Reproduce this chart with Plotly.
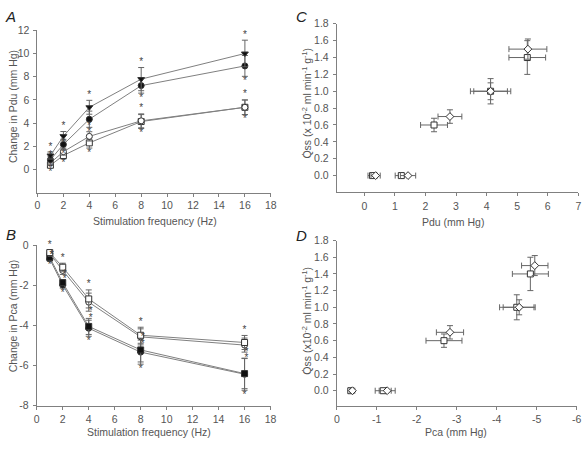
import plotly.graph_objects as go

W, H = 587, 449
FONT = "Liberation Sans, Arial, sans-serif"
TXT = "#555555"
LINE = "#808080"

freq = [1, 2, 4, 8, 16]

# Panel A: change in Pdu (mm Hg)
a_tri = [1.2, 2.87, 5.36, 7.79, 10.0]
a_tri_err = [0.3, 0.4, 0.6, 1.0, 1.15]
a_fcirc = [0.84, 2.15, 4.33, 7.23, 8.93]
a_fcirc_err = [0.3, 0.45, 0.7, 0.65, 0.9]
a_ocirc = [0.56, 1.53, 2.85, 4.19, 5.36]
a_ocirc_err = [0.2, 0.3, 0.4, 0.6, 0.63]
a_osq = [0.36, 1.2, 2.29, 4.13, 5.36]
a_osq_err = [0.2, 0.3, 0.45, 0.6, 0.63]

# Panel B: change in Pca (mm Hg)
b_osq = [-0.37, -1.1, -2.68, -4.49, -4.85]
b_osq_err = [0.1, 0.2, 0.45, 0.4, 0.35]
b_ocirc = [-0.42, -1.26, -2.84, -4.57, -4.98]
b_ocirc_err = [0.1, 0.2, 0.45, 0.4, 0.35]
b_fsq = [-0.61, -1.87, -4.05, -5.22, -6.4]
b_fsq_err = [0.1, 0.15, 0.4, 0.6, 0.75]
b_fcirc = [-0.69, -1.99, -4.14, -5.33, -6.43]
b_fcirc_err = [0.1, 0.15, 0.4, 0.6, 0.8]

# Panel C: Qss vs Pdu
c_sq_x = [0.27, 1.21, 2.28, 4.13, 5.33]
c_sq_xerr = [0.15, 0.2, 0.44, 0.66, 0.6]
c_sq_y = [0.0, 0.0, 0.6, 1.0, 1.4]
c_sq_yerr = [0, 0, 0.08, 0.15, 0.2]
c_di_x = [0.37, 1.43, 2.8, 4.13, 5.35]
c_di_xerr = [0.15, 0.25, 0.39, 0.55, 0.62]
c_di_y = [0.0, 0.0, 0.7, 1.0, 1.5]
c_di_yerr = [0, 0, 0.08, 0.1, 0.12]

# Panel D: Qss vs Pca
d_sq_x = [-0.35, -1.16, -2.68, -4.5, -4.84]
d_sq_xerr = [0.06, 0.2, 0.45, 0.43, 0.45]
d_sq_y = [0.0, 0.0, 0.6, 1.0, 1.4]
d_sq_yerr = [0, 0, 0.08, 0.15, 0.2]
d_di_x = [-0.39, -1.26, -2.83, -4.56, -4.95]
d_di_xerr = [0.06, 0.2, 0.34, 0.4, 0.33]
d_di_y = [0.0, 0.0, 0.7, 1.0, 1.5]
d_di_yerr = [0, 0, 0.08, 0.09, 0.12]

a_ticks = [0, 2, 4, 6, 8, 10, 12]
b_ticks = [0, -2, -4, -6, -8]
f_ticks = [0, 2, 4, 6, 8, 10, 12, 14, 16, 18]
c_xticks = [0, 1, 2, 3, 4, 5, 6, 7]
d_xticks = [0, -1, -2, -3, -4, -5, -6]
q_ticks = [0.0, 0.2, 0.4, 0.6, 0.8, 1.0, 1.2, 1.4, 1.6, 1.8]

fig = go.Figure()


def ebar(arr):
    return dict(type="data", array=arr, color="#666666", thickness=1, width=3)


def series(x, y, err, symbol, fill, xa, ya, size=6):
    fig.add_trace(go.Scatter(
        x=x, y=y, mode="lines+markers", xaxis=xa, yaxis=ya,
        line=dict(color=LINE, width=1),
        marker=dict(symbol=symbol, size=size, color=fill,
                    line=dict(color="#333333", width=1)),
        error_y=ebar(err), showlegend=False, cliponaxis=False))


def stars(x, y, pos, xa, ya):
    fig.add_trace(go.Scatter(
        x=x, y=y, mode="text", text=["*"] * len(x), textposition=pos,
        textfont=dict(family=FONT, size=10, color="#444444"),
        xaxis=xa, yaxis=ya, showlegend=False, cliponaxis=False))


# Panel A
series(freq, a_osq, a_osq_err, "square", "white", "x", "y")
series(freq, a_ocirc, a_ocirc_err, "circle", "white", "x", "y")
series(freq, a_fcirc, a_fcirc_err, "circle", "#111111", "x", "y")
series(freq, a_tri, a_tri_err, "triangle-down", "#111111", "x", "y")
stars(freq, [v + e for v, e in zip(a_tri, a_tri_err)], "top center", "x", "y")
stars(freq, [v - e for v, e in zip(a_fcirc, a_fcirc_err)], "bottom center", "x", "y")
stars(freq, [v + e for v, e in zip(a_ocirc, a_ocirc_err)], "top center", "x", "y")
stars(freq, [v - e for v, e in zip(a_osq, a_osq_err)], "bottom center", "x", "y")

# Panel B
series(freq, b_fcirc, b_fcirc_err, "circle", "#111111", "x2", "y2")
series(freq, b_fsq, b_fsq_err, "square", "#111111", "x2", "y2")
series(freq, b_ocirc, b_ocirc_err, "circle", "white", "x2", "y2")
series(freq, b_osq, b_osq_err, "square", "white", "x2", "y2")
stars(freq, [v + e for v, e in zip(b_osq, b_osq_err)], "top center", "x2", "y2")
stars(freq, [v - e for v, e in zip(b_ocirc, b_ocirc_err)], "middle right", "x2", "y2")
stars(freq, [v + e for v, e in zip(b_fsq, b_fsq_err)], "middle right", "x2", "y2")
stars(freq, [v - e for v, e in zip(b_fcirc, b_fcirc_err)], "bottom center", "x2", "y2")


def xy_pts(x, xerr, y, yerr, symbol, xa, ya):
    fig.add_trace(go.Scatter(
        x=x, y=y, mode="markers", xaxis=xa, yaxis=ya,
        marker=dict(symbol=symbol, size=6, color="white",
                    line=dict(color="#333333", width=1)),
        error_x=ebar(xerr), error_y=ebar(yerr),
        showlegend=False, cliponaxis=False))


xy_pts(c_sq_x, c_sq_xerr, c_sq_y, c_sq_yerr, "square", "x3", "y3")
xy_pts(c_di_x, c_di_xerr, c_di_y, c_di_yerr, "diamond", "x3", "y3")
xy_pts(d_sq_x, d_sq_xerr, d_sq_y, d_sq_yerr, "square", "x4", "y4")
xy_pts(d_di_x, d_di_xerr, d_di_y, d_di_yerr, "diamond", "x4", "y4")


def px_x(p):
    return p / W


def px_y(p):
    return 1 - p / H


axcommon = dict(showline=True, linecolor=LINE, linewidth=1, ticks="outside",
                ticklen=3, tickcolor=LINE, showgrid=False, zeroline=False,
                tickfont=dict(family=FONT, size=10.5, color=TXT), fixedrange=True)


def lab(vals, fmt="{:g}"):
    return [fmt.format(v) for v in vals]


fig.update_layout(
    width=W, height=H, margin=dict(l=0, r=0, t=0, b=0),
    paper_bgcolor="white", plot_bgcolor="white",
    xaxis=dict(axcommon, domain=[px_x(35), px_x(272)], range=[0, 18],
               tickvals=f_ticks, ticktext=lab(f_ticks), anchor="y"),
    yaxis=dict(axcommon, domain=[px_y(191.7), px_y(25)], range=[-2, 12],
               tickvals=a_ticks, ticktext=lab(a_ticks), anchor="x",
               ticklabelstandoff=2),
    xaxis2=dict(axcommon, domain=[px_x(34.3), px_x(271.7)], range=[0, 18],
                tickvals=f_ticks, ticktext=lab(f_ticks), anchor="y2",
                ticklabelstandoff=1),
    yaxis2=dict(axcommon, domain=[px_y(410.7), px_y(245.7)], range=[-8, 0],
                tickvals=b_ticks, ticktext=lab(b_ticks), anchor="x2",
                ticklabelstandoff=2),
    xaxis3=dict(axcommon, domain=[px_x(339), px_x(584.3)], range=[-0.9, 7],
                tickvals=c_xticks, ticktext=lab(c_xticks), anchor="y3",
                ticklabelstandoff=2),
    yaxis3=dict(axcommon, domain=[px_y(190.7), px_y(18.3)], range=[-0.19, 1.8],
                tickvals=q_ticks, ticktext=lab(q_ticks, "{:.1f}"), anchor="x3",
                ticklabelstandoff=2),
    xaxis4=dict(axcommon, domain=[px_x(339), px_x(582.7)], range=[0, -6],
                tickvals=d_xticks, ticktext=lab(d_xticks), anchor="y4",
                ticklabelstandoff=1),
    yaxis4=dict(axcommon, domain=[px_y(410.7), px_y(241)], range=[-0.18, 1.8],
                tickvals=q_ticks, ticktext=lab(q_ticks, "{:.1f}"), anchor="x4",
                ticklabelstandoff=2),
)


def note(text, x, y, size=10.5, angle=0, italic=False):
    fig.add_annotation(
        text=("<i>%s</i>" % text) if italic else text,
        x=px_x(x), y=px_y(y), xref="paper", yref="paper",
        xanchor="center", yanchor="middle", showarrow=False, textangle=angle,
        font=dict(family=FONT, size=size, color=TXT if not italic else "#222222"))


note("A", 8, 11, 15, italic=True)
note("B", 8, 235, 15, italic=True)
note("C", 303, 11, 15, italic=True)
note("D", 303, 236, 15, italic=True)

note("Stimulation frequency (Hz)", 154, 221)
note("Stimulation frequency (Hz)", 148, 438)
note("Pdu (mm Hg)", 457, 222)
note("Pca (mm Hg)", 460, 438)
note("Change in Pdu (mm Hg)", 10, 103, angle=-90)
note("Change in Pca (mm Hg)", 10, 318, angle=-90)
note("Q\u0307ss (x 10<sup>-2</sup> ml min<sup>-1</sup> g<sup>-1</sup>)", 308, 100, angle=-90)
note("Q\u0307ss (x10<sup>-2</sup> ml min<sup>-1</sup> g<sup>-1</sup>)", 308, 323, angle=-90)

fig.write_html("out.html", config={"displayModeBar": False},
               post_script="document.body.style.margin='0px';")
